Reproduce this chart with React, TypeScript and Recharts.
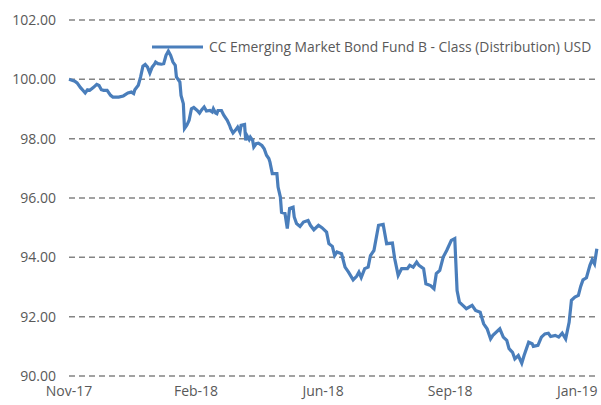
import { CartesianGrid, Legend, Line, LineChart, XAxis, YAxis } from 'recharts';

const SERIES_NAME = 'CC Emerging Market Bond Fund B - Class (Distribution) USD';

// calendar days since start of series (x position)
const days = [
  0, 5, 7, 10, 12, 14, 16, 18, 21, 24, 26, 28, 30, 33, 36, 38, 43, 47, 51, 54,
  56, 57, 60, 62, 64, 66, 68, 70, 72, 74, 75, 77, 80, 82, 84, 86, 88, 90, 92, 93,
  96, 97, 99, 100, 102, 104, 106, 108, 111, 113, 115, 117, 119, 122, 124, 125, 127, 128, 129, 132,
  134, 137, 139, 140, 142, 144, 146, 148, 149, 152, 153, 154, 156, 157, 159, 160, 162, 164, 167, 169,
  171, 173, 174, 176, 180, 181, 183, 184, 187, 189, 191, 194, 195, 197, 200, 203, 207, 209, 212, 216,
  219, 223, 225, 228, 230, 232, 236, 239, 242, 246, 249, 251, 253, 256, 259, 261, 264, 268, 272, 275,
  280, 282, 285, 288, 293, 295, 298, 301, 303, 307, 309, 313, 316, 318, 321, 324, 327, 331, 334, 336,
  338, 341, 344, 349, 352, 356, 359, 362, 365, 367, 373, 376, 379, 381, 384, 386, 389, 392, 394, 398,
  401, 402, 406, 409, 412, 415, 417, 421, 424, 427, 430, 433, 435, 438, 441, 443, 445, 448, 451, 453,
  455, 457,
];

const nav = [
  100.0, 99.94, 99.88, 99.72, 99.63, 99.54, 99.65, 99.63, 99.72, 99.83, 99.79, 99.65, 99.63, 99.63, 99.46, 99.4, 99.4, 99.44, 99.54, 99.57,
  99.52, 99.65, 99.8, 100.08, 100.44, 100.5, 100.41, 100.21, 100.41, 100.51, 100.58, 100.53, 100.51, 100.53, 100.81, 100.95, 100.81, 100.58, 100.47, 100.08,
  99.91, 99.46, 99.18, 98.34, 98.45, 98.62, 99.01, 99.05, 98.95, 98.86, 98.98, 99.07, 98.93, 98.95, 98.9, 99.01, 98.86, 98.84, 98.95, 98.95,
  98.79, 98.62, 98.45, 98.34, 98.19, 98.28, 98.39, 98.22, 98.45, 98.48, 97.94, 98.11, 97.97, 98.05, 97.94, 97.72, 97.83, 97.85, 97.77, 97.66,
  97.44, 97.33, 97.21, 96.82, 96.82, 96.37, 96.03, 95.52, 95.48, 94.97, 95.65, 95.69, 95.36, 95.14, 95.04, 95.19, 95.24, 95.08, 94.93, 95.08,
  95.0, 94.85, 94.46, 94.37, 94.06, 94.18, 94.12, 93.67, 93.5, 93.24, 93.36, 93.5, 93.32, 93.62, 93.67, 94.06, 94.23, 95.08, 95.11, 94.46,
  94.48, 93.95, 93.39, 93.62, 93.62, 93.73, 93.67, 93.84, 93.73, 93.62, 93.11, 93.05, 92.94, 93.45, 93.56, 94.01, 94.23, 94.57, 94.63, 92.88,
  92.49, 92.38, 92.27, 92.38, 92.21, 92.15, 91.76, 91.59, 91.25, 91.37, 91.59, 91.31, 91.2, 90.92, 90.8, 90.58, 90.69, 90.43, 90.69, 91.14,
  91.09, 91.0, 91.03, 91.31, 91.42, 91.44, 91.33, 91.37, 91.31, 91.44, 91.25, 91.81, 92.55, 92.66, 92.72, 93.02, 93.24, 93.31, 93.73, 93.92,
  93.78, 94.29,
];

const tickDays = [0, 110, 220, 330, 440];
const tickLabels = ['Nov-17', 'Feb-18', 'Jun-18', 'Sep-18', 'Jan-19'];
const yTicks = [90, 92, 94, 96, 98, 100, 102];

const data = days.map((d, i) => ({ day: d, nav: nav[i] }));

const FONT = '"Open Sans", sans-serif';
const LINE_COLOR = '#4a7ebb';
const tick = { fill: '#595959', fontSize: 14, fontFamily: FONT };

function LegendBox() {
  return (
    <div style={{ display: 'flex', alignItems: 'center', fontFamily: FONT, fontSize: 13.85, color: '#595959', whiteSpace: 'nowrap' }}>
      <svg width={51} height={4} style={{ display: 'block' }}>
        <line x1={0} y1={2} x2={51} y2={2} stroke={LINE_COLOR} strokeWidth={3} />
      </svg>
      <span style={{ marginLeft: 6 }}>{SERIES_NAME}</span>
    </div>
  );
}

export default function App() {
  return (
    <div style={{ position: 'absolute', left: 0, top: 0, width: 601, height: 405, background: '#fff' }}>
      <LineChart width={601} height={405} data={data} margin={{ top: 20, right: 3, bottom: 0, left: 0 }}>
        <CartesianGrid vertical={false} stroke="#848484" strokeWidth={1.5} strokeDasharray="6 4" />
        <XAxis
          type="number"
          dataKey="day"
          domain={[0, 458]}
          ticks={tickDays}
          tickFormatter={(v) => tickLabels[tickDays.indexOf(v)] ?? ''}
          axisLine={false}
          tickLine={false}
          tickSize={0}
          tickMargin={10}
          height={29}
          tick={tick}
          interval={0}
        />
        <YAxis
          type="number"
          domain={[90, 102]}
          ticks={yTicks}
          tickFormatter={(v) => Number(v).toFixed(2)}
          axisLine={false}
          tickLine={false}
          tickSize={0}
          tickMargin={13}
          width={69}
          tick={tick}
          interval={0}
        />
        <Legend
          layout="horizontal"
          verticalAlign="middle"
          align="center"
          wrapperStyle={{ top: 37, left: 152, width: 'auto' }}
          content={() => <LegendBox />}
        />
        <Line
          type="linear"
          dataKey="nav"
          name={SERIES_NAME}
          stroke={LINE_COLOR}
          strokeWidth={3.2}
          dot={false}
          isAnimationActive={false}
        />
      </LineChart>
    </div>
  );
}
